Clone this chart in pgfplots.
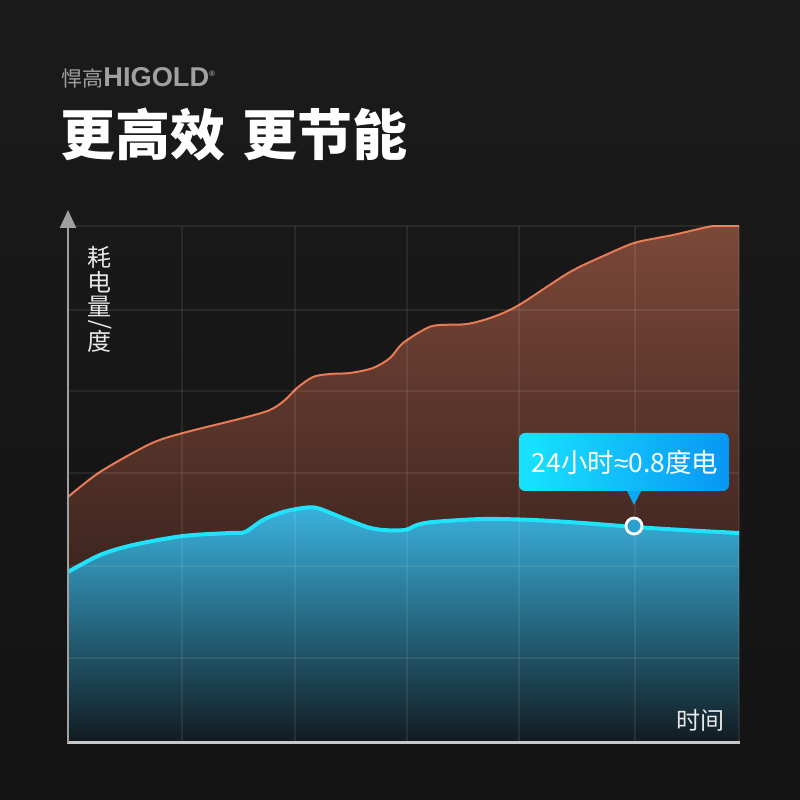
\documentclass[border=0pt]{standalone}
\usepackage{fontspec}
\setmainfont{Noto Sans CJK SC}
\newfontfamily\hgfont{Liberation Sans}
\usepackage{pgfplots}
\pgfplotsset{compat=1.18}
\usetikzlibrary{arrows.meta}
\definecolor{bgtop}{RGB}{27,27,27}
\definecolor{bgbot}{RGB}{19,19,20}
\definecolor{orline}{RGB}{232,122,86}
\definecolor{ortop}{RGB}{124,72,57}
\definecolor{orbot}{RGB}{30,20,18}
\definecolor{cyline}{RGB}{32,226,250}
\definecolor{cytop}{RGB}{58,178,222}
\definecolor{cymid}{RGB}{28,90,118}
\definecolor{cybot}{RGB}{17,26,32}
\definecolor{tipL}{RGB}{24,228,255}
\definecolor{tipR}{RGB}{8,150,245}
\definecolor{tipM}{RGB}{12,168,248}
\definecolor{markfill}{RGB}{44,160,205}
\begin{document}
\begin{tikzpicture}
\shade[top color=bgtop,bottom color=bgbot] (0pt,0pt) rectangle (400pt,400pt);
\begin{axis}[at={(34pt,28.5pt)}, anchor=south west, scale only axis,
  width=335.5pt, height=258.5pt,
  xmin=0, xmax=671, ymin=0, ymax=517,
  axis line style={draw=none},
  xtick={114,227,339,451,567,671}, ytick={85,177,270,352,433,517},
  xticklabels={}, yticklabels={}, major tick length=0pt,
  grid=major, major grid style={white, opacity=0.075, line width=0.8pt},
  axis on top]
% orange series (conventional)
\addplot[draw=none, top color=ortop, bottom color=orbot, smooth, tension=0.5] coordinates {
(0,246) (32,271) (82,299) (115,310) (175,325) (202,333) (217,343) (229,355) (245,366) (262,369) (282,370) (305,375) (322,385) (335,400) (359,415) (372,418) (399,419) (425,426) (451,438) (502,471) (542,490) (566,500) (589,505) (605,508) (635,515) (647,517) (671,517)
} \closedcycle;
\addplot[orline, line width=1pt, smooth, tension=0.5] coordinates {
(0,246) (32,271) (82,299) (115,310) (175,325) (202,333) (217,343) (229,355) (245,366) (262,369) (282,370) (305,375) (322,385) (335,400) (359,415) (372,418) (399,419) (425,426) (451,438) (502,471) (542,490) (566,500) (589,505) (605,508) (635,515) (647,517) (671,517)
};
% cyan series (HIGOLD)
\addplot[draw=none, top color=cytop, middle color=cymid, bottom color=cybot, smooth, tension=0.5] coordinates {
(0,171) (32,188) (65,198) (115,207) (162,210) (177,211) (195,223) (215,231) (235,235) (249,235) (275,225) (299,216) (315,213) (337,213) (349,218) (365,221) (415,224) (465,223) (515,220) (567,216) (615,213) (671,210)
} \closedcycle;
\addplot[cyline, line width=2pt, smooth, tension=0.5] coordinates {
(0,171) (32,188) (65,198) (115,207) (162,210) (177,211) (195,223) (215,231) (235,235) (249,235) (275,225) (299,216) (315,213) (337,213) (349,218) (365,221) (415,224) (465,223) (515,220) (567,216) (615,213) (671,210)
};
\addplot[only marks, mark=*, mark size=4pt, mark options={draw=white, line width=1.4pt, fill=markfill}] coordinates {(566,217)};
\end{axis}
\begin{scope}[x=0.5pt,y=0.5pt]
% axis lines
\draw[color={rgb,255:red,200;green,200;blue,200}, line width=1.5pt] (67,57) -- (740,57);
\draw[color={rgb,255:red,160;green,160;blue,160}, line width=1pt, -{Triangle[length=9pt,width=8pt]}] (68,57) -- (68,590);
% logo and title
\node[anchor=west, inner sep=0pt, text={rgb,255:red,160;green,160;blue,160}] at (61,722)
  {\fontsize{10.5pt}{12pt}\selectfont 悍高\hgfont\bfseries\fontsize{13.6pt}{14pt}\selectfont HIGOLD\raisebox{5pt}{\fontsize{4pt}{4pt}\selectfont ®}};
\node[anchor=west, inner sep=0pt, text=white] at (60,665)
  {\fontsize{27.5pt}{30pt}\selectfont\bfseries 更高效\hspace{8.5pt}更节能};
% axis titles
\begin{scope}[every node/.style={inner sep=0pt, text={rgb,255:red,232;green,232;blue,232}, font=\fontsize{12pt}{13pt}\selectfont}]
\node at (100,543) {耗};
\node at (100,518) {电};
\node at (100,494) {量};
\node at (100,475) {\rotatebox{90}{/}};
\node at (100,459) {度};
\node at (700,80) {时间};
\end{scope}
% tooltip
\fill[tipM] (626,311) -- (642,311) -- (634,295) -- cycle;
\shade[left color=tipL, right color=tipR, rounded corners=3pt] (519,309) rectangle (729,367);
\node[text=white, inner sep=0pt, font=\fontsize{13.2pt}{14pt}\selectfont] at (625,338) {24小时{\hgfont ≈}0.8度电};
\end{scope}
\pgfresetboundingbox
\useasboundingbox (0pt,0pt) rectangle (400pt,400pt);
\end{tikzpicture}
\end{document}
